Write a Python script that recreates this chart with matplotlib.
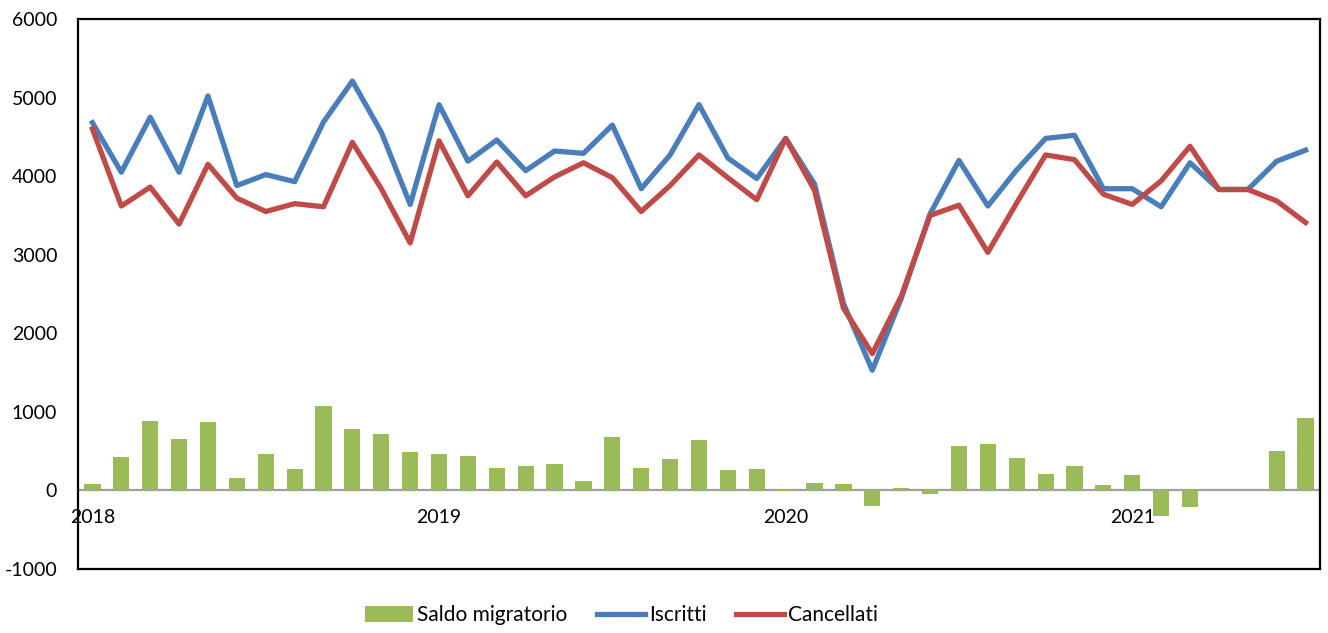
import matplotlib.pyplot as plt
import numpy as np

plt.rcParams['font.family'] = ['Lato', 'DejaVu Sans']
plt.rcParams['axes.unicode_minus'] = False

# mesi gen 2018 - lug 2021
years = ['2018', '2019', '2020', '2021']
year_pos = [0, 12, 24, 36]

iscritti = [4680, 4050, 4750, 4050, 5020, 3880, 4020, 3930, 4690, 5210, 4560, 3640,
            4910, 4190, 4460, 4070, 4320, 4290, 4650, 3840, 4270, 4910, 4230, 3970,
            4480, 3900, 2380, 1530, 2440, 3520, 4200, 3620, 4080, 4480, 4520, 3840,
            3840, 3610, 4170, 3830, 3830, 4190, 4330]
cancellati = [4600, 3620, 3860, 3390, 4150, 3720, 3550, 3650, 3610, 4430, 3840, 3150,
              4450, 3750, 4180, 3750, 3990, 4170, 3980, 3550, 3880, 4270, 3980, 3700,
              4480, 3820, 2320, 1740, 2470, 3500, 3630, 3030, 3660, 4270, 4210, 3770,
              3640, 3940, 4380, 3830, 3830, 3685, 3410]
saldo = [85, 425, 890, 660, 875, 160, 460, 275, 1070, 785, 720, 484,
         468, 442, 289, 315, 336, 120, 680, 289, 395, 642, 260, 273,
         -5, 98, 81, -200, 34, -47, 569, 590, 416, 208, 310, 68,
         200, -331, -212, 0, 0, 505, 921]

x = np.arange(len(iscritti))

fig = plt.figure(figsize=(13.28, 6.33), dpi=100)
ax = fig.add_axes([78/1328, 1 - 569/633, (1320-78)/1328, (569-19)/633])

ax.axhline(0, color='#a0a0a0', lw=1.6, zorder=1)
b = ax.bar(x, saldo, width=0.56, color='#9bbb59', zorder=2, label='Saldo migratorio')
l1, = ax.plot(x, iscritti, color='#4a7ebb', lw=3.8, zorder=3, label='Iscritti')
l2, = ax.plot(x, cancellati, color='#be4b48', lw=3.8, zorder=4, label='Cancellati')

ax.set_xlim(-0.5, len(x) - 0.5)
ax.set_ylim(-1000, 6000)
ax.set_yticks(np.arange(-1000, 6001, 1000))
ax.set_xticks([])
ax.tick_params(axis='y', length=0, pad=15, labelsize=14)

for s in ax.spines.values():
    s.set_linewidth(1.6)
    s.set_color('black')

for p, y in zip(year_pos, years):
    ax.text(p, -350, y, ha='center', va='center', fontsize=14)

fig.legend(handles=[b, l1, l2], loc='center', bbox_to_anchor=(0.468, 0.028),
           ncol=3, frameon=False, fontsize=15, handlelength=2.3,
           handleheight=0.75, columnspacing=1.4, handletextpad=0.2)

fig.savefig('out.png', dpi=100)
